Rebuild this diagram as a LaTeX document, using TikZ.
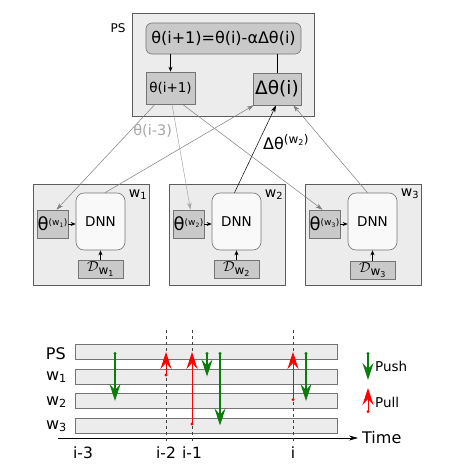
\documentclass[tikz,border=0pt]{standalone}
\usepackage{fontspec}
\setmainfont{DejaVu Sans}
\usepackage{tikz}
\usetikzlibrary{positioning,arrows.meta,calc}

\definecolor{boxfill}{HTML}{ECECEC}
\definecolor{boxdraw}{HTML}{5C5C5C}
\definecolor{cellfill}{HTML}{C9C9C9}
\definecolor{netfill}{HTML}{F9F9F9}
\definecolor{linkgray}{HTML}{7C7C7C}
\definecolor{palegray}{HTML}{A6A6A6}
\definecolor{pushgreen}{HTML}{0B7D0B}

\newcommand{\fs}[1]{\fontsize{#1}{#1}\selectfont}
\newcommand{\wsub}[1]{w\textsubscript{#1}}
\newcommand{\thw}[1]{θ\raisebox{5pt}{\fs{9}(\wsub{#1})}}
\newcommand{\dw}[1]{{\fs{14}$\mathcal{D}$}\raisebox{-3pt}{\fs{12}\wsub{#1}}}

\begin{document}
\begin{tikzpicture}[
    x=1pt, y=-1pt,
    frame/.style={draw=boxdraw, fill=boxfill, line width=0.8pt, inner sep=0pt},
    cell/.style={draw=boxdraw!85, fill=cellfill, line width=0.6pt, inner sep=0pt,
                 align=center},
    net/.style={draw=boxdraw!85, fill=netfill, rounded corners=8pt, line width=0.6pt,
                minimum width=49pt, minimum height=57pt, font=\fs{13.5}},
    thbox/.style={cell, minimum width=31pt, minimum height=28pt, font=\fs{18}},
    dbox/.style={cell, minimum width=45pt, minimum height=18pt},
    lane/.style={draw=boxdraw!85, fill=gray!15, line width=1pt, minimum width=262pt,
                 minimum height=15pt, inner sep=0pt},
    arr/.style={-{Stealth[length=5pt,width=4pt]}, line width=0.6pt},
    link/.style={-{Stealth[length=7pt,width=4.5pt]}, line width=0.5pt, linkgray},
    push/.style={{Circle[length=2.8pt]}-{Stealth[length=17pt,width=11pt,inset=6pt]},
                 line width=1.1pt, pushgreen},
    pull/.style={{Circle[length=2.8pt]}-{Stealth[length=17pt,width=11pt,inset=6pt]},
                 line width=1pt, red},
    tick/.style={dashed, line width=0.6pt, black!75}
]
\useasboundingbox (0,0) rectangle (467,469);

% parameter server
\node[frame, minimum width=182pt, minimum height=103pt] (ps) at (223,64.5) {};
\node[font=\fs{12}] (pslbl) at (118,28) {PS};
\node[cell, rounded corners=6pt, minimum width=155pt, minimum height=31pt,
      font=\fs{16}] (upd) at (223.5,38.5) {θ(i+1)=θ(i)-αΔθ(i)};
\node[cell, minimum width=49pt, minimum height=32pt, font=\fs{13.5}] (thnext)
     at (170.5,88) {θ(i+1)};
\node[cell, minimum width=48pt, minimum height=32pt, font=\fs{18.5}] (grad)
     at (277,89) {Δθ(i)};
\draw[arr] (upd.south -| thnext) -- (thnext.north);
\draw[line width=0.6pt] (grad.north) -- (grad.north |- upd.south);

% workers
\node[frame, minimum width=116pt, minimum height=101pt] (w1) at (91,234.5) {};
\node[net] (dnn1) at (100.5,221.5) {DNN};
\node[thbox] (th1) at (52.5,224) {\thw{1}};
\node[dbox] (d1) at (100.5,269) {\dw{1}};
\node[font=\fs{14}] (w1lbl) at (138,195) {\wsub{1}};

\node[frame, minimum width=116pt, minimum height=101pt] (w2) at (227,234.5) {};
\node[net] (dnn2) at (236.5,221.5) {DNN};
\node[thbox] (th2) at (188.5,224) {\thw{2}};
\node[dbox] (d2) at (236.5,269) {\dw{2}};
\node[font=\fs{14}] (w2lbl) at (274,195) {\wsub{2}};

\node[frame, minimum width=116pt, minimum height=101pt] (w3) at (363,235) {};
\node[net] (dnn3) at (372.5,221.5) {DNN};
\node[thbox] (th3) at (324.5,224) {\thw{3}};
\node[dbox] (d3) at (372.5,270) {\dw{3}};
\node[font=\fs{14}] (w3lbl) at (410,194) {\wsub{3}};

\draw[arr] (th1.east) -- (th1.east -| dnn1.west);
\draw[arr] (d1.north) -- (dnn1.south);
\draw[arr] (th2.east) -- (th2.east -| dnn2.west);
\draw[arr] (d2.north) -- (dnn2.south);
\draw[arr] (th3.east) -- (th3.east -| dnn3.west);
\draw[arr] (d3.north) -- (dnn3.south);

% pull and push links
\draw[link] ($(thnext.south)+(-15.5,0)$) -- ($(th1.north)+(4,0)$);
\draw[link, palegray] ($(thnext.south)+(1.5,0)$) -- ($(th2.north)+(2,0)$)
     node[pos=0.25, left=1pt, font=\fs{14.5}, text=palegray] {θ(i-3)};
\draw[link] ($(thnext.south)+(12,0)$) -- ($(th3.north)+(-2,0)$);
\draw[link] ($(dnn1.north)+(4.5,0)$) -- ($(grad.south west)+(1,0)$);
\draw[link, black] ($(dnn2.north)+(-2,0)$) -- ($(grad.south)+(-1,0)$)
     node[pos=0.58, right=1pt, text=black, font=\fs{16}]
     {Δθ\raisebox{6pt}{\fs{12}(\wsub{2})}};
\draw[link] ($(dnn3.north)+(-5,0)$) -- ($(grad.south east)+(-8,0)$);

% timeline
\node[lane] (lps) at (206,352) {};
\node[lane] (lw1) at (206,376.5) {};
\node[lane] (lw2) at (206,401) {};
\node[lane] (lw3) at (206,425.5) {};
\node[font=\fs{16}, anchor=east, inner sep=0pt] (tps) at (66,354) {PS};
\node[font=\fs{16}, anchor=east, inner sep=0pt] (tw1) at (67,377) {\wsub{1}};
\node[font=\fs{16}, anchor=east, inner sep=0pt] (tw2) at (67,402) {\wsub{2}};
\node[font=\fs{16}, anchor=east, inner sep=0pt] (tw3) at (67,426) {\wsub{3}};

\coordinate (t0) at (58,438);
\coordinate (t1) at (358,438);
\draw[-{Stealth[length=9pt,width=5pt]}, line width=0.6pt] (t0) -- (t1);
\node[font=\fs{16}, right=4pt of t1, inner sep=0pt] (time) {Time};

\node[font=\fs{15.5}] (ti3) at (83,453) {i-3};
\node[font=\fs{15.5}] (ti2) at (166,453) {i-2};
\node[font=\fs{15.5}] (ti1) at (192,453) {i-1};
\node[font=\fs{15.5}] (ti) at (293,453) {i};
\coordinate (top2) at (166,330);
\coordinate (top1) at (192,330);
\coordinate (top0) at (293,330);
\draw[tick] (top2) -- (ti2.north);
\draw[tick] (top1) -- (ti1.north);
\draw[tick] (top0) -- (ti.north);

\coordinate (pa) at (115,330);
\coordinate (pb) at (207,330);
\coordinate (pc) at (220,330);
\coordinate (pd) at (306,330);
\draw[push] (pa |- lps) -- (pa |- lw2);
\draw[pull] (top2 |- lw1) -- (top2 |- lps);
\draw[pull] (top1 |- lw3) -- (top1 |- lps);
\draw[push] (pb |- lps) -- (pb |- lw1);
\draw[push] (pc |- lps) -- (pc |- lw3);
\draw[pull] (top0 |- lw2) -- (top0 |- lps);
\draw[push] (pd |- lps) -- (pd |- lw2);

% legend
\node[font=\fs{13.5}, anchor=west, inner sep=0pt] (pushlbl) at (375,366) {Push};
\node[font=\fs{13.5}, anchor=west, inner sep=0pt] (pulllbl) at (375,402) {Pull};
\draw[push] ($(pushlbl.west)+(-7,-14)$) -- ($(pushlbl.west)+(-7,14)$);
\draw[pull] ($(pulllbl.west)+(-7,11)$) -- ($(pulllbl.west)+(-7,-14)$);
\end{tikzpicture}
\end{document}
